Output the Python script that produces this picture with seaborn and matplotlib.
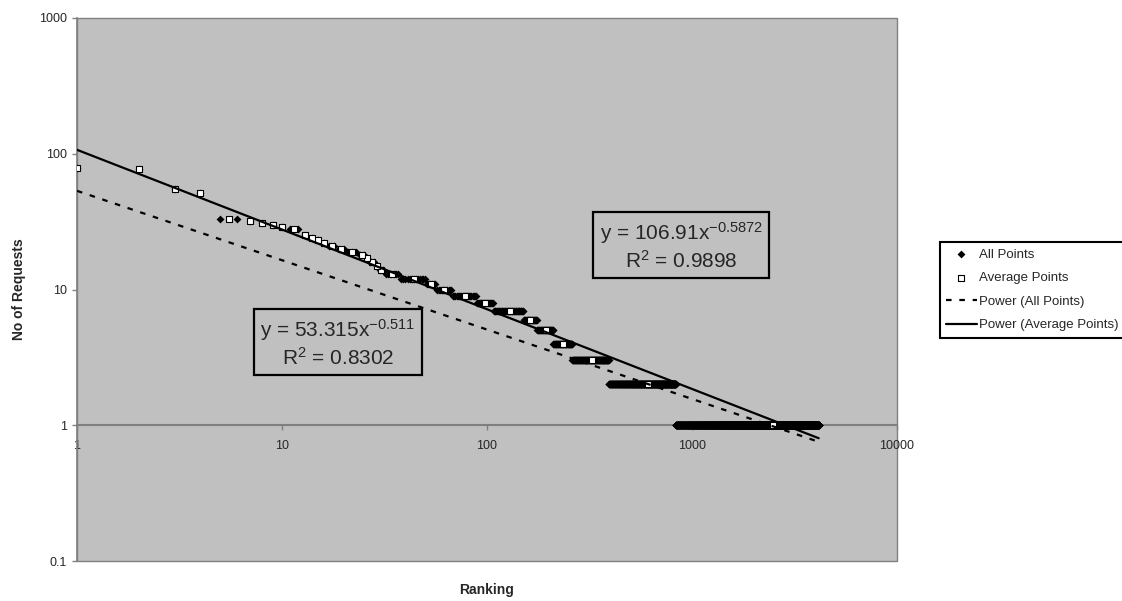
#!/usr/bin/env python3
# -*- coding: utf-8 -*-
"""
Requests vs. ranking (log-log) with power trendlines
"""

import numpy as np
import pandas as pd
import matplotlib
matplotlib.use('Agg')
import matplotlib.pyplot as plt
from matplotlib.ticker import NullLocator
import seaborn as sns

# request count values and how many items have that count
request_counts = [79, 77, 55, 51, 33, 32, 31, 30, 29, 28, 25, 24, 23, 22, 21, 20, 19, 18,
                  17, 16, 15, 14, 13, 12, 11, 10, 9, 8, 7, 6, 5, 4, 3, 2, 1]
items_per_count = [1, 1, 1, 1, 2, 1, 1, 1, 1, 2, 1, 1, 1, 1, 2, 2, 3, 2,
                   1, 2, 1, 2, 6, 13, 6, 11, 21, 19, 43, 25, 35, 50, 132, 440, 3318]

# power trendline coefficients shown on the chart
all_coef, all_exp, all_r2 = 53.315, -0.511, 0.8302
avg_coef, avg_exp, avg_r2 = 106.91, -0.5872, 0.9898

x_ticks = [1, 10, 100, 1000, 10000]
x_tick_labels = ['1', '10', '100', '1000', '10000']
y_ticks = [0.1, 1, 10, 100, 1000]
y_tick_labels = ['0.1', '1', '10', '100', '1000']

sns.set_style('white')
plt.rcParams['font.family'] = ['Liberation Sans', 'DejaVu Sans']
plt.rcParams['mathtext.fontset'] = 'custom'
plt.rcParams['mathtext.rm'] = 'Liberation Sans'
plt.rcParams['mathtext.it'] = 'Liberation Sans'
plt.rcParams['mathtext.default'] = 'regular'

GRAY = '#808080'
PLOT_BG = '#C0C0C0'


def build_frames():
    """build point, average and trendline tables"""
    ranks = np.arange(1, sum(items_per_count) + 1)
    all_df = pd.DataFrame({'rank': ranks,
                           'requests': np.repeat(request_counts, items_per_count)})
    avg_df = all_df.groupby('requests', as_index=False)['rank'].mean()
    x_fit = np.logspace(0, np.log10(ranks.max()), 300)
    fit_df = pd.DataFrame({'rank': x_fit,
                           'all_fit': all_coef * x_fit ** all_exp,
                           'avg_fit': avg_coef * x_fit ** avg_exp})
    return all_df, avg_df, fit_df


def main():
    all_df, avg_df, fit_df = build_frames()

    fig = plt.figure(figsize=(11.22, 6.01), dpi=100)
    ax = fig.add_axes([77 / 1122, 1 - 561 / 601, 820 / 1122, 543 / 601])
    ax.set_facecolor(PLOT_BG)
    ax.patch.set_edgecolor(GRAY)
    ax.patch.set_linewidth(1)
    ax.set_xscale('log')
    ax.set_yscale('log')

    sns.scatterplot(data=all_df, x='rank', y='requests', marker='D', s=16,
                    color='black', edgecolor='black', linewidth=0,
                    label='All Points', ax=ax, zorder=3)
    sns.scatterplot(data=avg_df, x='rank', y='requests', marker='s', s=24,
                    color='white', edgecolor='black', linewidth=0.8,
                    label='Average Points', ax=ax, zorder=4)
    sns.lineplot(data=fit_df, x='rank', y='all_fit', color='black', lw=1.6,
                 linestyle=(0, (2.5, 3.5)), label='Power (All Points)', ax=ax, zorder=5)
    sns.lineplot(data=fit_df, x='rank', y='avg_fit', color='black', lw=1.6,
                 label='Power (Average Points)', ax=ax, zorder=5)

    ax.set_xlim(1, 10000)
    ax.set_ylim(0.1, 1000)
    ax.set_xticks(x_ticks)
    ax.set_xticklabels(x_tick_labels)
    ax.set_yticks(y_ticks)
    ax.set_yticklabels(y_tick_labels)
    ax.xaxis.set_minor_locator(NullLocator())
    ax.yaxis.set_minor_locator(NullLocator())

    # horizontal axis crosses at 1
    ax.spines['bottom'].set_position(('data', 1))
    ax.spines['bottom'].set_color(GRAY)
    ax.spines['bottom'].set_linewidth(1.5)
    ax.spines['left'].set_color(GRAY)
    ax.spines['left'].set_linewidth(1.2)
    ax.spines['top'].set_visible(False)
    ax.spines['right'].set_visible(False)

    ax.tick_params(axis='y', direction='out', length=3.6, width=1, color=GRAY,
                   labelsize=9, pad=3.6, left=True)
    ax.tick_params(axis='x', direction='out', length=3.6, width=1, color=GRAY,
                   labelsize=9, pad=7, bottom=True)

    ax.set_xlabel('Ranking', fontsize=10, fontweight='bold')
    ax.set_ylabel('No of Requests', fontsize=10, fontweight='bold')
    ax.xaxis.set_label_coords(0.5, -0.04)
    ax.yaxis.set_label_coords(-0.062, 0.5)

    # trendline equations
    box = dict(boxstyle='square,pad=0.3', fc=PLOT_BG, ec='black', lw=1.6)
    ax.text(0.7366, 0.580, f'y = {avg_coef}x$^{{{avg_exp}}}$\nR$^2$ = {avg_r2}',
            transform=ax.transAxes, ha='center', va='center', multialignment='center',
            fontsize=15, bbox=box, zorder=6)
    ax.text(0.318, 0.4015, f'y = {all_coef}x$^{{{all_exp}}}$\nR$^2$ = {all_r2}',
            transform=ax.transAxes, ha='center', va='center', multialignment='center',
            fontsize=15, bbox=box, zorder=6)

    handles, labels = ax.get_legend_handles_labels()
    if ax.get_legend() is not None:
        ax.get_legend().remove()
    leg = fig.legend(handles, labels, loc='center left',
                     bbox_to_anchor=(933 / 1122, 1 - 290 / 601),
                     frameon=True, fancybox=False, edgecolor='black', framealpha=1,
                     fontsize=9.5, handlelength=2.3, handletextpad=0.2,
                     labelspacing=0.85, borderpad=0.5)
    leg.get_frame().set_linewidth(1.5)

    fig.savefig('out.png', dpi=100)
    plt.close(fig)


if __name__ == "__main__":
    main()
